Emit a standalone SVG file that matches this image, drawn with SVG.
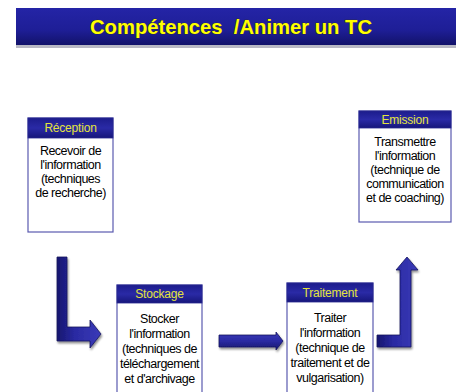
<svg xmlns="http://www.w3.org/2000/svg" width="462" height="392" viewBox="0 0 462 392">
<defs>
<linearGradient id="bar" x1="0" y1="0" x2="0" y2="1">
<stop offset="0" stop-color="#2424a6"/>
<stop offset="0.6" stop-color="#1e1e96"/>
<stop offset="1" stop-color="#12126a"/>
</linearGradient>
<linearGradient id="hdr" x1="0" y1="0" x2="0" y2="1">
<stop offset="0" stop-color="#1c1c8c"/>
<stop offset="0.5" stop-color="#2a2aa6"/>
<stop offset="1" stop-color="#16167a"/>
</linearGradient>
<linearGradient id="arrH" x1="0" y1="0" x2="0" y2="1">
<stop offset="0" stop-color="#3a3ab8"/>
<stop offset="0.5" stop-color="#2a2aa2"/>
<stop offset="1" stop-color="#16166e"/>
</linearGradient>
<linearGradient id="arrV" x1="0" y1="0" x2="1" y2="0">
<stop offset="0" stop-color="#16166e"/>
<stop offset="0.4" stop-color="#2a2aa2"/>
<stop offset="1" stop-color="#3a3ab8"/>
</linearGradient>
<filter id="sh" x="-20%" y="-20%" width="140%" height="140%">
<feGaussianBlur in="SourceAlpha" stdDeviation="1.2"/>
<feOffset dx="1" dy="1.5" result="b"/>
<feComponentTransfer><feFuncA type="linear" slope="0.45"/></feComponentTransfer>
<feMerge><feMergeNode/><feMergeNode in="SourceGraphic"/></feMerge>
</filter>
</defs>
<style>
.title{font-family:"Liberation Sans",Arial,sans-serif;font-weight:bold;font-size:21px;fill:#ffff00;stroke:#30300a;stroke-width:0.6px;paint-order:stroke}
.hd{font-family:"Liberation Sans",Arial,sans-serif;font-size:12px;fill:#e4e43c;text-anchor:middle;letter-spacing:-0.2px}
.tx{font-family:"Liberation Sans",Arial,sans-serif;font-size:12.5px;fill:#000;text-anchor:middle;letter-spacing:-0.5px}
.body{fill:#fff;stroke:#5a5ab0;stroke-width:1.2}
.head{fill:url(#hdr);stroke:#2a2a90;stroke-width:0.8}
.arr{stroke:#15155e;stroke-width:0.8;filter:url(#sh)}
</style>
<rect x="16" y="45" width="440" height="3" fill="#b8b8c4"/>
<rect x="16" y="8" width="440" height="37" fill="url(#bar)"/>
<text class="title" x="231" y="34" text-anchor="middle" xml:space="preserve" textLength="282" lengthAdjust="spacingAndGlyphs">Compétences  /Animer un TC</text>

<g id="connectors">
<path class="arr" fill="url(#arrV)" d="M57,257 L67,257 L67,327 L90,327 L90,320 L101,334 L90,348 L90,341 L57,341 Z"/>
<path class="arr" fill="url(#arrH)" d="M219,335 L276,335 L276,332 L283,341 L276,350 L276,347 L219,347 Z"/>
<path class="arr" fill="url(#arrV)" d="M377,335 L400,335 L400,270 L396,270 L407,257 L418,270 L411,270 L411,347 L377,347 Z"/>
</g>

<g id="reception">
<rect class="body" x="28" y="118" width="85" height="114"/>
<rect class="head" x="28" y="118" width="85" height="20"/>
<text class="hd" x="70.5" y="132">Réception</text>
<text class="tx" x="70.5" y="155">Recevoir de</text>
<text class="tx" x="70.5" y="169">l'information</text>
<text class="tx" x="70.5" y="183">(techniques</text>
<text class="tx" x="70.5" y="197">de recherche)</text>
</g>

<g id="emission">
<rect class="body" x="359" y="111" width="92" height="111"/>
<rect class="head" x="359" y="111" width="92" height="17"/>
<text class="hd" x="405" y="124">Emission</text>
<text class="tx" x="405" y="146">Transmettre</text>
<text class="tx" x="405" y="160">l'information</text>
<text class="tx" x="405" y="174">(technique de</text>
<text class="tx" x="405" y="188">communication</text>
<text class="tx" x="405" y="202">et de coaching)</text>
</g>

<g id="stockage">
<rect class="body" x="117" y="285" width="85" height="110"/>
<rect class="head" x="117" y="285" width="85" height="18"/>
<text class="hd" x="159.5" y="298">Stockage</text>
<text class="tx" x="159.5" y="323">Stocker</text>
<text class="tx" x="159.5" y="338">l'information</text>
<text class="tx" x="159.5" y="353">(techniques de</text>
<text class="tx" x="159.5" y="368">téléchargement</text>
<text class="tx" x="159.5" y="383">et d'archivage</text>
</g>

<g id="traitement">
<rect class="body" x="287" y="283" width="86" height="112"/>
<rect class="head" x="287" y="283" width="86" height="19"/>
<text class="hd" x="330" y="297">Traitement</text>
<text class="tx" x="330" y="322">Traiter</text>
<text class="tx" x="330" y="337">l'information</text>
<text class="tx" x="330" y="352">(technique de</text>
<text class="tx" x="330" y="367">traitement et de</text>
<text class="tx" x="330" y="382">vulgarisation)</text>
</g>
</svg>
